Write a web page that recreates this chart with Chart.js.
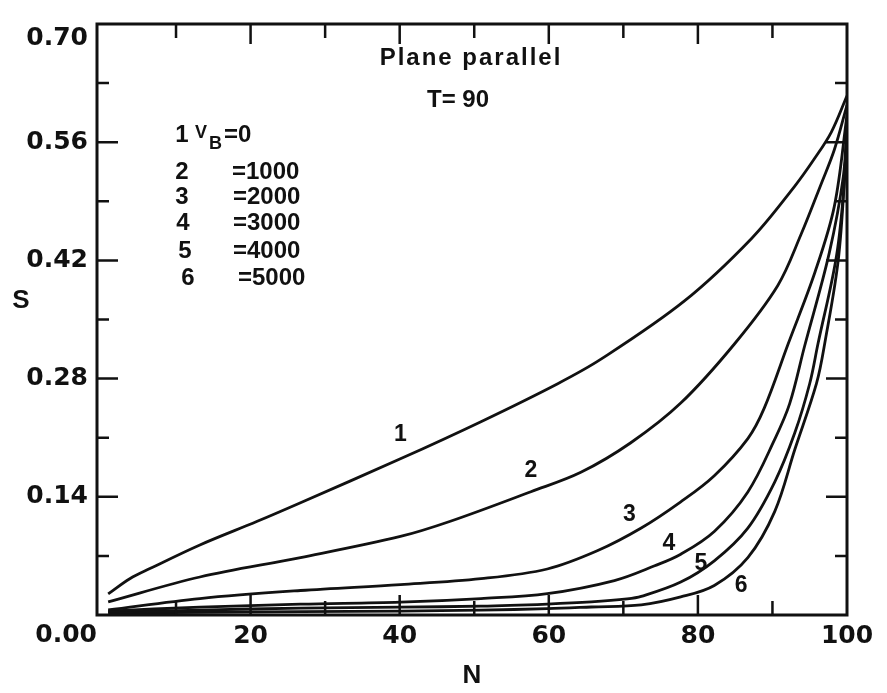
<!DOCTYPE html>
<html>
<head>
<meta charset="utf-8">
<title>Plane parallel, T = 90</title>
<script src="https://cdn.jsdelivr.net/npm/chart.js@4.4.1/dist/chart.umd.min.js"></script>
<style>
  html, body { margin: 0; padding: 0; background: #fff; }
  canvas { display: block; }
</style>
</head>
<body>
<canvas id="grafico" width="887" height="693"></canvas>
<script>
// S against N, plane parallel, T = 90, one curve per V_B
var vB = [0, 1000, 2000, 3000, 4000, 5000];

var n1 = [0.9, 3.8, 6.5, 13.2, 20.9, 26.7, 40.1, 50.9, 61.2, 67.0, 78.2, 87.2, 93.0, 95.6, 97.9, 100];
var s1 = [0.025, 0.043, 0.055, 0.083, 0.111, 0.133, 0.185, 0.229, 0.274, 0.303, 0.372, 0.446, 0.508, 0.540, 0.572, 0.615];

var n2 = [0.9, 13.2, 26.7, 40.1, 46.8, 57.6, 64.3, 71.0, 77.7, 84.9, 90.7, 93.8, 96.6, 98.3, 100];
var s2 = [0.0155, 0.045, 0.068, 0.093, 0.111, 0.146, 0.169, 0.204, 0.251, 0.321, 0.390, 0.450, 0.512, 0.551, 0.604];

var n3 = [0.9, 13.2, 26.7, 40.1, 50.9, 59.8, 66.5, 72.4, 77.7, 82.2, 86.7, 88.9, 92.1, 95.7, 98.3, 100];
var s3 = [0.006, 0.0195, 0.029, 0.036, 0.043, 0.0545, 0.076, 0.103, 0.134, 0.165, 0.209, 0.245, 0.321, 0.406, 0.484, 0.592];

var n4 = [0.9, 13.2, 26.7, 40.1, 50.9, 59.8, 68.8, 74.2, 77.7, 82.2, 86.7, 90.3, 92.3, 94.3, 97.6, 99.5, 100];
var s4 = [0.0047, 0.0093, 0.0128, 0.0152, 0.0195, 0.0253, 0.0408, 0.0583, 0.072, 0.099, 0.1458, 0.208, 0.250, 0.318, 0.428, 0.519, 0.585];

var n5 = [0.9, 13.2, 26.7, 40.1, 50.9, 59.8, 65.7, 70.5, 72.4, 77.7, 82.2, 86.7, 90.3, 93.0, 95.0, 96.1, 98.6, 99.7, 100];
var s5 = [0.0035, 0.0058, 0.0082, 0.0093, 0.0105, 0.013, 0.0155, 0.019, 0.022, 0.039, 0.0642, 0.103, 0.1575, 0.2158, 0.2742, 0.3209, 0.4259, 0.5192, 0.578];

var n6 = [0.9, 26.7, 40.1, 50.9, 59.8, 65.7, 72.4, 77.7, 82.2, 86.7, 90.3, 93.0, 95.9, 97.0, 98.9, 100];
var s6 = [0.0023, 0.0041, 0.0047, 0.0058, 0.0075, 0.0095, 0.012, 0.0214, 0.035, 0.068, 0.1225, 0.196, 0.274, 0.321, 0.426, 0.568];

var xTicks = [0, 10, 20, 30, 40, 50, 60, 70, 80, 90, 100];
var yTicks = [0, 0.07, 0.14, 0.21, 0.28, 0.35, 0.42, 0.49, 0.56, 0.63, 0.70];

var todosN = [n1, n2, n3, n4, n5, n6];
var todosS = [s1, s2, s3, s4, s5, s6];

// where the curve numbers sit (N, S)
var rotulos = [[40.1, 0.2135], [57.6, 0.1715], [70.8, 0.119], [76.1, 0.084], [80.4, 0.0607], [85.8, 0.035]];

var tinta = '#111';
var fonteEixo = '"DejaVu Sans", sans-serif';
var fonteTexto = '"Liberation Sans", Arial, sans-serif';

var conjuntos = todosN.map(function (ns, i) {
  return {
    label: String(i + 1),
    data: ns.map(function (n, j) { return { x: n, y: todosS[i][j] }; }),
    showLine: true,
    borderColor: tinta,
    borderWidth: 2.8,
    pointRadius: 0,
    fill: false,
    tension: 0.35
  };
});

var moldura = {
  id: 'moldura',
  afterDraw: function (chart) {
    var ctx = chart.ctx, a = chart.chartArea;
    var x = chart.scales.x, y = chart.scales.y;
    ctx.save();
    ctx.strokeStyle = tinta;
    ctx.fillStyle = tinta;

    // frame and inward tick marks on all four sides
    ctx.lineWidth = 3;
    ctx.strokeRect(a.left, a.top, a.right - a.left, a.bottom - a.top);
    ctx.lineWidth = 2.5;
    ctx.beginPath();
    xTicks.forEach(function (v) {
      if (v === 0 || v === 100) return;
      var px = x.getPixelForValue(v);
      var len = v % 20 === 0 ? 20 : 14;
      ctx.moveTo(px, a.bottom); ctx.lineTo(px, a.bottom - len);
      ctx.moveTo(px, a.top); ctx.lineTo(px, a.top + len);
    });
    yTicks.forEach(function (v, i) {
      if (i === 0 || i === yTicks.length - 1) return;
      var py = y.getPixelForValue(v);
      var len = i % 2 === 0 ? 21 : 12;
      ctx.moveTo(a.left, py); ctx.lineTo(a.left + len, py);
      ctx.moveTo(a.right, py); ctx.lineTo(a.right - len, py);
    });
    ctx.stroke();

    // corner labels of the S axis
    ctx.font = 'bold 25px ' + fonteEixo;
    ctx.textAlign = 'right';
    ctx.textBaseline = 'middle';
    ctx.fillText('0.70', a.left - 9, y.getPixelForValue(0.70) + 14);
    ctx.fillText('0.00', a.left, y.getPixelForValue(0) + 20);

    // axis title S, upright
    ctx.font = 'bold 26px ' + fonteTexto;
    ctx.textAlign = 'center';
    ctx.fillText('S', 21, 301);

    // curve numbers
    ctx.font = 'bold 23px ' + fonteTexto;
    rotulos.forEach(function (r, i) {
      ctx.fillText(String(i + 1), x.getPixelForValue(r[0]), y.getPixelForValue(r[1]));
    });

    // heading
    ctx.font = 'bold 24px ' + fonteTexto;
    ctx.letterSpacing = '2px';
    ctx.fillText('Plane parallel', 471, 58);
    ctx.letterSpacing = '0px';
    ctx.fillText('T= 90', 458, 100);

    // V_B key
    var numX = [182, 182, 182, 183, 185, 188];
    var valX = [224, 232, 233, 233, 233, 238];
    var linhaY = [135, 172, 197, 223, 251, 278];
    vB.forEach(function (v, i) {
      ctx.font = 'bold 24px ' + fonteTexto;
      ctx.textAlign = 'center';
      ctx.fillText(String(i + 1), numX[i], linhaY[i]);
      ctx.textAlign = 'left';
      if (i === 0) {
        ctx.font = 'bold 18px ' + fonteTexto;
        ctx.fillText('V', 195, linhaY[i] - 2);
        ctx.fillText('B', 209, linhaY[i] + 9);
        ctx.font = 'bold 24px ' + fonteTexto;
      }
      ctx.fillText('=' + v, valX[i], linhaY[i]);
    });
    ctx.restore();
  }
};

var contexto = document.getElementById('grafico');
var grafico = new Chart(contexto, {
  type: 'scatter',
  data: { datasets: conjuntos },
  options: {
    responsive: false,
    animation: false,
    layout: { padding: { left: 0, top: 15, right: 40, bottom: 0 } },
    scales: {
      x: {
        type: 'linear',
        min: -0.6,
        max: 100,
        afterBuildTicks: function (s) { s.ticks = xTicks.map(function (v) { return { value: v }; }); },
        afterFit: function (s) { s.height = 78; },
        grid: { display: false, drawTicks: false },
        border: { display: false },
        ticks: {
          autoSkip: false,
          maxRotation: 0,
          padding: 6,
          color: tinta,
          font: { family: fonteEixo, size: 25, weight: 'bold' },
          callback: function (v) { return v > 0 && v % 20 === 0 ? String(v) : ''; }
        },
        title: {
          display: true,
          text: 'N',
          color: tinta,
          font: { family: fonteTexto, size: 26, weight: 'bold', lineHeight: 1 },
          padding: { top: 0, bottom: 4 }
        }
      },
      y: {
        type: 'linear',
        min: 0,
        max: 0.70,
        afterBuildTicks: function (s) { s.ticks = yTicks.map(function (v) { return { value: v }; }); },
        afterFit: function (s) { s.width = 97; },
        grid: { display: false, drawTicks: false },
        border: { display: false },
        ticks: {
          autoSkip: false,
          padding: 9,
          color: tinta,
          font: { family: fonteEixo, size: 25, weight: 'bold' },
          callback: function (v, i) {
            if (i === 0 || i === yTicks.length - 1 || i % 2 === 1) return '';
            return v.toFixed(2);
          }
        }
      }
    },
    plugins: {
      legend: { display: false },
      tooltip: { enabled: false }
    }
  },
  plugins: [moldura]
});
</script>
</body>
</html>
